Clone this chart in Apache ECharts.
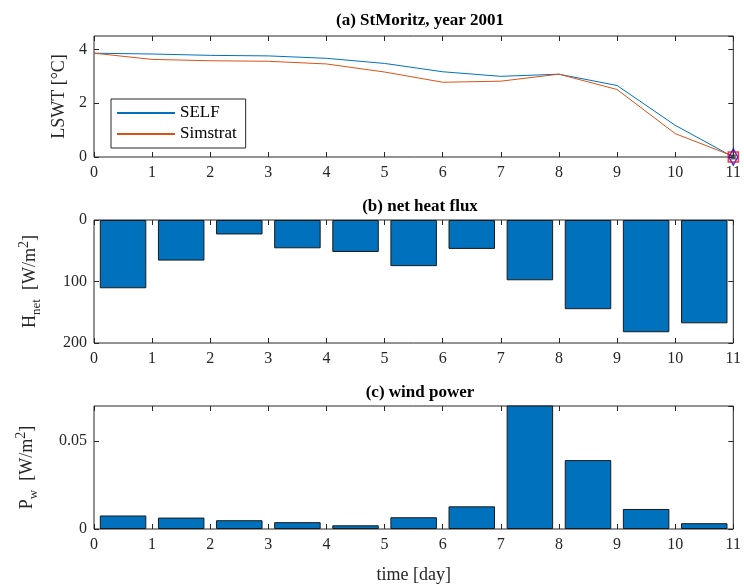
<!DOCTYPE html>
<html lang="en">
<head>
    <meta charset="UTF-8">
    <title>StMoritz 2001</title>
    <style>
        body { margin: 0; background: #fff; }
        #chart { width: 744px; height: 588px; }
    </style>
</head>
<body>
<div id="chart"></div>
<script src="https://cdn.jsdelivr.net/npm/echarts@6/dist/echarts.min.js"></script>
<script type="text/javascript">
    // data
    var days = [0, 1, 2, 3, 4, 5, 6, 7, 8, 9, 10, 11];
    var selfT = [3.86, 3.83, 3.78, 3.76, 3.67, 3.48, 3.17, 3.00, 3.08, 2.66, 1.18, 0.00];
    var simstratT = [3.86, 3.63, 3.58, 3.56, 3.46, 3.16, 2.78, 2.82, 3.08, 2.51, 0.87, 0.03];
    var dayBins = ['0-1', '1-2', '2-3', '3-4', '4-5', '5-6', '6-7', '7-8', '8-9', '9-10', '10-11'];
    var heatFlux = [111, 66, 23.5, 46, 52, 75, 47, 98, 145, 182.5, 168];
    var windPower = [0.0077, 0.0065, 0.0050, 0.0039, 0.0021, 0.0067, 0.0129, 0.075, 0.0392, 0.0114, 0.0033];
    var endPoint = [[11, 0]];

    var FONT = 'Liberation Serif';
    var INK = '#262626';
    var BLUE = '#0072BD';
    var ORANGE = '#D95319';

    var chart = echarts.init(document.getElementById('chart'));

    function pairs(xs, ys) {
        return ys.map(function (y, i) { return [xs[i], y]; });
    }

    // x value axis 0..11, labelled at the bottom, bare ticks on top
    function dayAxis(grid, position, labelled) {
        return {
            type: 'value', gridIndex: grid, position: position,
            min: 0, max: 11, interval: 1,
            axisLine: { show: false, onZero: false },
            axisTick: { show: true, inside: true, length: 5, lineStyle: { color: INK } },
            axisLabel: { show: labelled, margin: 8, fontFamily: FONT, fontSize: 16, color: INK },
            splitLine: { show: false }
        };
    }

    function barAxis(grid) {
        return {
            type: 'category', gridIndex: grid, data: dayBins, show: false,
            boundaryGap: true
        };
    }

    var nameRich = {
        m: { fontFamily: FONT, fontSize: 18, color: INK, lineHeight: 26, verticalAlign: 'middle' },
        sub: { fontFamily: FONT, fontSize: 13, color: INK, verticalAlign: 'bottom', lineHeight: 26, padding: [8, 0, 0, 0] },
        sup: { fontFamily: FONT, fontSize: 14, color: INK, verticalAlign: 'top', lineHeight: 26, padding: [0, 0, 8, 0] }
    };

    function valueY(grid, position, opts) {
        var a = {
            type: 'value', gridIndex: grid, position: position,
            axisLine: { show: false, onZero: false },
            axisTick: { show: true, inside: true, length: 5, lineStyle: { color: INK } },
            axisLabel: { show: position === 'left', margin: 7, fontFamily: FONT, fontSize: 16, color: INK, showMaxLabel: false },
            splitLine: { show: false }
        };
        for (var k in opts) a[k] = opts[k];
        return a;
    }

    var titleStyle = { fontFamily: FONT, fontSize: 17, fontWeight: 'bold', color: '#000' };

    var option = {
        animation: false,
        title: [
            { text: '(a) StMoritz, year 2001', left: 415, top: 7, textAlign: 'center', textStyle: titleStyle },
            { text: '(b) net heat flux', left: 415, top: 193, textAlign: 'center', textStyle: titleStyle },
            { text: '(c) wind power', left: 415, top: 379, textAlign: 'center', textStyle: titleStyle }
        ],
        grid: [
            { left: 94, top: 36, width: 642, height: 121, show: true, borderColor: INK, borderWidth: 1, backgroundColor: '#fff' },
            { left: 94, top: 220, width: 642, height: 123, show: true, borderColor: INK, borderWidth: 1, backgroundColor: '#fff' },
            { left: 94, top: 406, width: 642, height: 123, show: true, borderColor: INK, borderWidth: 1, backgroundColor: '#fff' }
        ],
        xAxis: [
            dayAxis(0, 'bottom', true),     // 0
            dayAxis(0, 'top', false),       // 1
            dayAxis(1, 'bottom', true),     // 2
            dayAxis(1, 'top', false),       // 3
            barAxis(1),                     // 4
            (function () {
                var a = dayAxis(2, 'bottom', true);
                a.name = 'time [day]';
                a.nameLocation = 'middle';
                a.nameGap = 37;
                a.nameTextStyle = { fontFamily: FONT, fontSize: 18, color: INK };
                return a;
            })(),                           // 5
            dayAxis(2, 'top', false),       // 6
            barAxis(2)                      // 7
        ],
        yAxis: [
            valueY(0, 'left', {
                min: 0, max: 4.5, interval: 2,
                name: 'LSWT [°C]', nameLocation: 'middle', nameGap: 16,
                nameTextStyle: { fontFamily: FONT, fontSize: 18, color: INK }
            }),                                                       // 0
            valueY(0, 'right', { min: 0, max: 4.5, interval: 2 }),    // 1
            valueY(1, 'left', {
                min: 0, max: 200, interval: 100, inverse: true,
                axisLabel: { margin: 7, fontFamily: FONT, fontSize: 16, color: INK },
                name: '{m|H}{sub|net}{m|  [W/m}{sup|2}{m|]}', nameLocation: 'middle', nameGap: 51,
                nameTextStyle: { rich: nameRich }
            }),                                                       // 2
            valueY(1, 'right', { min: 0, max: 200, interval: 100, inverse: true }), // 3
            valueY(2, 'left', {
                min: 0, max: 0.07, interval: 0.05,
                name: '{m|P}{sub|w}{m|  [W/m}{sup|2}{m|]}', nameLocation: 'middle', nameGap: 54,
                nameTextStyle: { rich: nameRich }
            }),                                                       // 4
            valueY(2, 'right', { min: 0, max: 0.07, interval: 0.05 }) // 5
        ],
        legend: {
            left: 111, top: 99, orient: 'vertical',
            data: ['SELF', 'Simstrat'],
            icon: 'rect',
            backgroundColor: '#fff', borderColor: INK, borderWidth: 1,
            padding: [4, 9, 4, 6], itemGap: 1,
            itemWidth: 58, itemHeight: 2,
            textStyle: { fontFamily: FONT, fontSize: 17, color: '#000', lineHeight: 20, height: 20 }
        },
        series: [
            {
                name: 'SELF', type: 'line', xAxisIndex: 0, yAxisIndex: 0,
                data: pairs(days, selfT), symbol: 'none',
                lineStyle: { color: BLUE, width: 1 }, itemStyle: { color: BLUE }
            },
            {
                name: 'Simstrat', type: 'line', xAxisIndex: 0, yAxisIndex: 0,
                data: pairs(days, simstratT), symbol: 'none',
                lineStyle: { color: ORANGE, width: 1 }, itemStyle: { color: ORANGE }
            },
            {
                type: 'scatter', xAxisIndex: 0, yAxisIndex: 0, data: endPoint,
                symbol: 'diamond', symbolSize: [9, 16], clip: false,
                itemStyle: { color: 'transparent', borderColor: '#0000ff', borderWidth: 1.5 }, z: 5
            },
            {
                type: 'scatter', xAxisIndex: 0, yAxisIndex: 0, data: endPoint,
                symbol: 'rect', symbolSize: 10, clip: false,
                itemStyle: { color: 'transparent', borderColor: '#ff0000', borderWidth: 1.5 }, z: 6
            },
            {
                type: 'scatter', xAxisIndex: 0, yAxisIndex: 0, data: endPoint,
                symbol: 'rect', symbolSize: 5, clip: false,
                itemStyle: { color: '#333' }, z: 7
            },
            {
                type: 'bar', xAxisIndex: 4, yAxisIndex: 2, data: heatFlux,
                barCategoryGap: '20%',
                itemStyle: { color: BLUE, borderColor: '#1a1a1a', borderWidth: 1 }
            },
            {
                type: 'bar', xAxisIndex: 7, yAxisIndex: 4, data: windPower,
                barCategoryGap: '20%', clip: true,
                itemStyle: { color: BLUE, borderColor: '#1a1a1a', borderWidth: 1 }
            }
        ]
    };

    chart.setOption(option);
</script>
</body>
</html>
